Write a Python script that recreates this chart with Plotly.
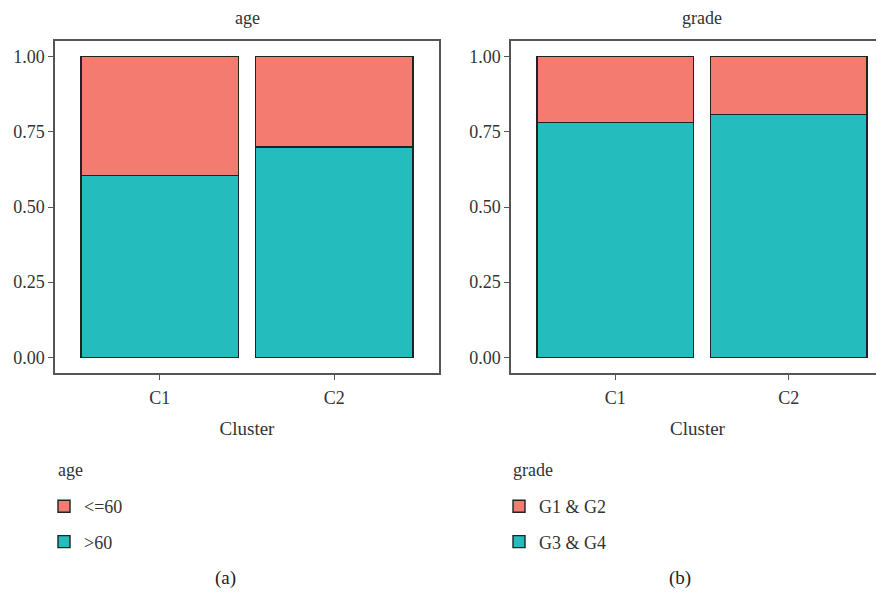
import plotly.graph_objects as go

clusters = ["C1", "C2"]
age_gt60 = [0.605, 0.700]
age_le60 = [0.395, 0.300]
grade_g34 = [0.782, 0.808]
grade_g12 = [0.218, 0.192]

RED = "#F37B6F"
TEAL = "#25BCBE"
FONT = "Liberation Serif"
OFF = 8  # browser default body margin
W, H = 884 - OFF, 595 - OFF
L, R, T, B = 55 - OFF, 0, 41 - OFF, H - (373 - OFF)
PW, PH = W - L - R, H - T - B


def px(x):
    return (x - OFF - L) / PW


def py(y):
    return (H - B - (y - OFF)) / PH


fig = go.Figure()
line = dict(color="#222222", width=1.4)

fig.add_trace(go.Bar(x=clusters, y=age_gt60, name=">60", marker=dict(color=TEAL, line=line),
                     xaxis="x", yaxis="y", legend="legend", legendgroup="a2", legendrank=2, width=0.9))
fig.add_trace(go.Bar(x=clusters, y=age_le60, name="<=60", marker=dict(color=RED, line=line),
                     xaxis="x", yaxis="y", legend="legend", legendgroup="a1", legendrank=1, width=0.9))
fig.add_trace(go.Bar(x=clusters, y=grade_g34, name="G3 & G4", marker=dict(color=TEAL, line=line),
                     xaxis="x2", yaxis="y2", legend="legend2", legendgroup="b2", legendrank=2, width=0.9))
fig.add_trace(go.Bar(x=clusters, y=grade_g12, name="G1 & G2", marker=dict(color=RED, line=line),
                     xaxis="x2", yaxis="y2", legend="legend2", legendgroup="b1", legendrank=1, width=0.9))

common_x = dict(showline=True, mirror=True, linecolor="#555555", linewidth=1.5, ticks="outside",
                ticklen=5, tickcolor="#555555", showgrid=False, tickfont=dict(size=18, color="#333333"),
                ticklabelstandoff=3,
                title=dict(text="Cluster", font=dict(size=19, color="#333333"), standoff=14))
common_y = dict(showline=True, mirror=True, linecolor="#555555", linewidth=1.5, ticks="outside",
                ticklen=5, tickcolor="#555555", showgrid=False, range=[-0.052, 1.052],
                tickvals=[0, 0.25, 0.5, 0.75, 1.0], ticktext=["0.00", "0.25", "0.50", "0.75", "1.00"],
                tickfont=dict(size=18, color="#333333"), zeroline=False)

leg_common = dict(xanchor="left", yanchor="top", font=dict(size=18, color="#333333"),
                  traceorder="grouped", tracegroupgap=9, bgcolor="rgba(0,0,0,0)")


def ann(text, x, y, size, xanchor="center", color="#333333"):
    return dict(text=text, x=px(x), y=py(y), xref="paper", yref="paper", xanchor=xanchor,
                yanchor="middle", showarrow=False, font=dict(size=size, color=color))


fig.update_layout(
    width=W, height=H, margin=dict(l=L, r=R, t=T, b=B, autoexpand=False),
    paper_bgcolor="white", plot_bgcolor="white", barmode="stack",
    font=dict(family=FONT, color="#333333"),
    xaxis=dict(domain=[0, px(439)], range=[-0.6, 1.6], anchor="y", **common_x),
    yaxis=dict(domain=[0, 1], anchor="x", **common_y),
    xaxis2=dict(domain=[px(511), 1], range=[-0.6, 1.549], anchor="y2", **common_x),
    yaxis2=dict(domain=[0, 1], anchor="x2", **common_y),
    legend=dict(x=px(44), y=py(488), **leg_common),
    legend2=dict(x=px(499), y=py(488), **leg_common),
    annotations=[
        ann("age", 247, 18, 18),
        ann("grade", 702, 18, 18),
        ann("age", 56, 470, 18, xanchor="left"),
        ann("grade", 511, 470, 18, xanchor="left"),
        ann("(a)", 225, 578, 19, color="#222222"),
        ann("(b)", 680, 578, 19, color="#222222"),
    ],
)

fig.write_html("out.html")
